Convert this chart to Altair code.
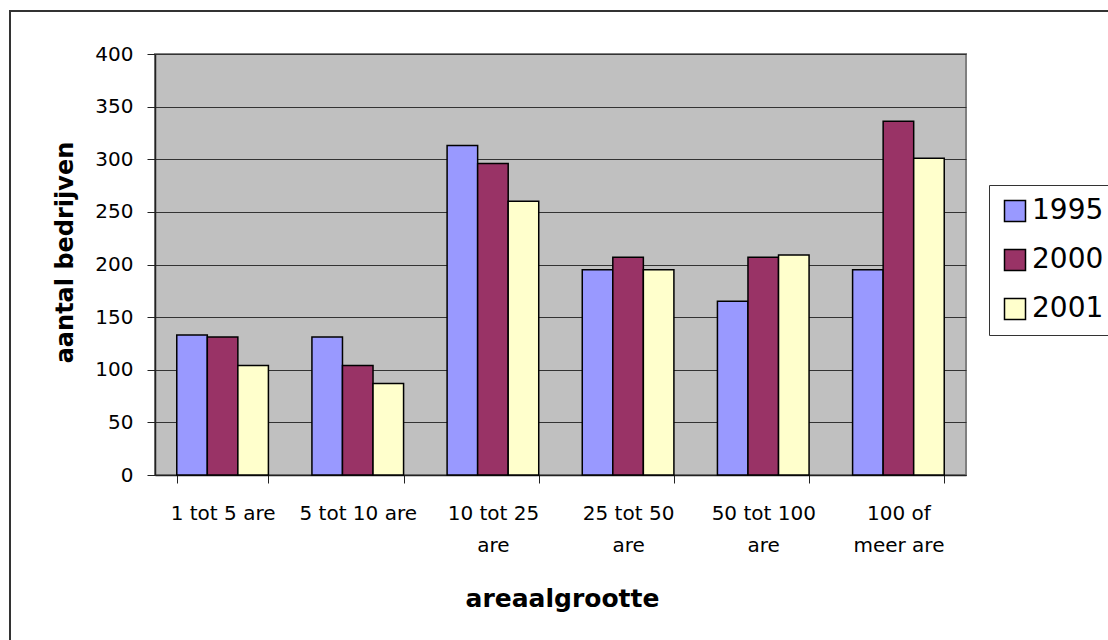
import altair as alt
import pandas as pd

categories = ["1 tot 5 are", "5 tot 10 are", "10 tot 25|are", "25 tot 50|are", "50 tot 100|are", "100 of|meer are"]
years = ["1995", "2000", "2001"]
v1995 = [133, 131, 313, 195, 165, 195]
v2000 = [131, 104, 296, 207, 207, 336]
v2001 = [104, 87, 260, 195, 209, 301]
colors = ["#9999FF", "#993366", "#FFFFCC"]

rows = []
for i, c in enumerate(categories):
    for y, vals in zip(years, [v1995, v2000, v2001]):
        rows.append({"cat": c, "jaar": y, "val": vals[i]})
df = pd.DataFrame(rows)

FONT = "DejaVu Sans"

bars = alt.Chart(df).mark_bar(stroke="black", strokeWidth=1.5).encode(
    x=alt.X("cat:N", sort=categories,
            scale=alt.Scale(paddingInner=0.322, paddingOuter=0.161),
            axis=alt.Axis(title="areaalgrootte", labelAngle=0,
                          labelExpr="isValid(datum.value) ? split(datum.value, '|') : ''",
                          labelFont=FONT, labelFontSize=20, labelColor="black",
                          labelLineHeight=32, labelPadding=20,
                          tickBand="extent", tickSize=8, tickColor="#222",
                          domainColor="#222", domainWidth=1.5,
                          titleFont=FONT, titleFontSize=25, titleFontWeight="bold",
                          titleColor="black", titleX=407, titleY=131,
                          titleAlign="center", titleBaseline="alphabetic",
                          labelLimit=200)),
    xOffset=alt.XOffset("jaar:N", sort=years,
                        scale=alt.Scale(paddingInner=0, paddingOuter=0)),
    y=alt.Y("val:Q", scale=alt.Scale(domain=[0, 400], nice=False),
            axis=alt.Axis(title="aantal bedrijven",
                          values=[0, 50, 100, 150, 200, 250, 300, 350, 400],
                          labelFont=FONT, labelFontSize=20, labelColor="black",
                          labelPadding=14, tickSize=8, tickColor="#222",
                          domainColor="#222", domainWidth=1.5,
                          grid=True, gridColor="#333", gridWidth=1,
                          titleFont=FONT, titleFontSize=24, titleFontWeight="bold",
                          titleColor="black", titleAngle=270, titleX=-83, titleY=198,
                          titleAlign="center", titleBaseline="alphabetic")),
    fill=alt.Fill("jaar:N", sort=years,
                  scale=alt.Scale(domain=years, range=colors),
                  legend=alt.Legend(title=None, orient="none", legendX=834, legendY=131,
                                    symbolType="square", symbolSize=441,
                                    symbolStrokeColor="black", symbolStrokeWidth=1.5,
                                    labelFont=FONT, labelFontSize=28, labelColor="black",
                                    labelOffset=3, rowPadding=21, padding=12,
                                    strokeColor="#333", fillColor="white")),
)

border = alt.Chart(alt.Data(values=[{}])).mark_rect(
    fill="transparent", stroke="#333", strokeWidth=2
).encode(
    x=alt.value(-145), x2=alt.value(980),
    y=alt.value(-43), y2=alt.value(620),
)

chart = alt.layer(bars, border).properties(
    width=811, height=421,
    autosize=alt.AutoSizeParams(type="none"),
    padding={"left": 155, "top": 54, "right": 142, "bottom": 165},
    background="white",
).configure_view(
    fill="#C0C0C0", stroke="#808080", strokeWidth=2
)

chart.save("out.html", embed_options={"renderer": "svg", "actions": False})
